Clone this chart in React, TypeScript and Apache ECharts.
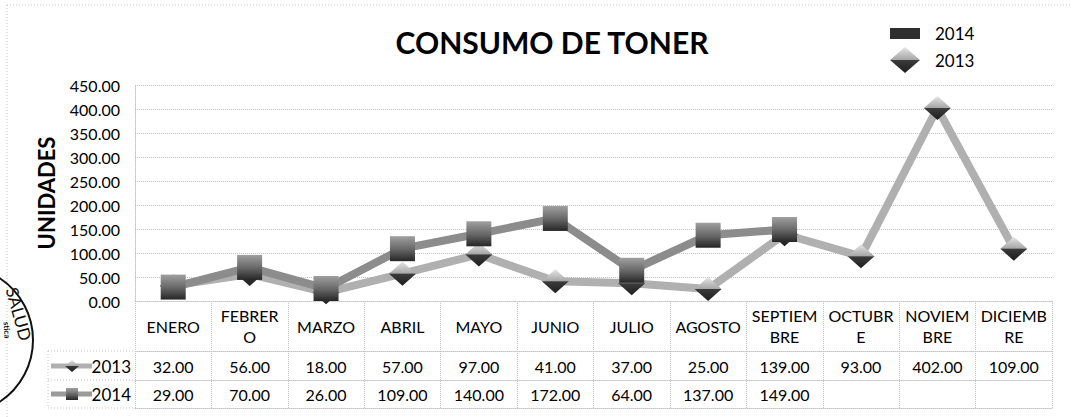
import React, { useEffect, useRef } from "react";
import * as echarts from "echarts";

const categories = ["ENERO", "FEBRERO", "MARZO", "ABRIL", "MAYO", "JUNIO", "JULIO", "AGOSTO", "SEPTIEMBRE", "OCTUBRE", "NOVIEMBRE", "DICIEMBRE"];
const categoryLabels = ["ENERO", "FEBRER\nO", "MARZO", "ABRIL", "MAYO", "JUNIO", "JULIO", "AGOSTO", "SEPTIEM\nBRE", "OCTUBR\nE", "NOVIEM\nBRE", "DICIEMB\nRE"];
const values2013 = [32, 56, 18, 57, 97, 41, 37, 25, 139, 93, 402, 109];
const values2014: (number | null)[] = [29, 70, 26, 109, 140, 172, 64, 137, 149, null, null, null];
const yMin = 0;
const yMax = 450;
const yStep = 50;
const titleText = "CONSUMO DE TONER";
const yName = "UNIDADES";

const FONT = 'Lato, "Open Sans", "Noto Sans", sans-serif';
const GRID = "#c4c4c4";

const fmt = (v: number | null | undefined) => (v == null ? "" : Number(v).toFixed(2));

export default function App() {
  const ref = useRef<HTMLDivElement>(null);
  useEffect(() => {
    if (!ref.current) return;
    const chart = echarts.init(ref.current, undefined, { renderer: "svg" });
    const dotted = { color: GRID, width: 1, type: "dotted" as const };
    const sq2014 = new echarts.graphic.LinearGradient(0, 0, 0, 1, [
      { offset: 0, color: "#a0a0a0" },
      { offset: 0.5, color: "#6a6a6a" },
      { offset: 1, color: "#262626" },
    ]);
    const dia2013 = new echarts.graphic.LinearGradient(0, 0, 0, 1, [
      { offset: 0, color: "#e6e6e6" },
      { offset: 0.48, color: "#a8a8a8" },
      { offset: 0.52, color: "#3a3a3a" },
      { offset: 1, color: "#1e1e1e" },
    ]);
    const tableAxis = (offset: number, vals: (number | null)[] | null, margin: number) => ({
      type: "category",
      data: categories,
      position: "bottom",
      offset,
      boundaryGap: true,
      axisLine: { show: true, lineStyle: dotted },
      axisTick: { show: false },
      axisLabel: vals
        ? {
            show: true,
            interval: 0,
            margin,
            verticalAlign: "middle",
            color: "#000",
            fontSize: 16,
            fontFamily: FONT,
            formatter: (_v: string, i: number) => fmt(vals[i]),
          }
        : { show: false },
    });
    chart.setOption({
      animation: false,
      backgroundColor: "#fff",
      title: {
        text: titleText,
        left: 552,
        top: 27,
        textAlign: "center",
        padding: 0,
        textStyle: { fontFamily: FONT, fontWeight: "bold", fontSize: 30, color: "#000" },
      },
      legend: {
        orient: "vertical",
        left: 890,
        top: 20,
        itemWidth: 30,
        itemHeight: 26,
        itemGap: 1,
        padding: 0,
        textStyle: { fontFamily: FONT, fontSize: 17, color: "#000", padding: [0, 0, 0, 10] },
        data: [
          { name: "2014", icon: "path://M0 0M0 8L30 8L30 19L0 19ZM30 26", itemStyle: { color: "#2e2e2e" } },
          { name: "2013", icon: "diamond", itemStyle: { color: dia2013 } },
        ],
      },
      grid: { left: 135, right: 20, top: 85, bottom: 116, containLabel: false },
      xAxis: [
        {
          type: "category",
          data: categories,
          position: "bottom",
          boundaryGap: true,
          axisLine: { show: true, lineStyle: dotted },
          axisTick: { show: true, interval: 0, length: 107, lineStyle: dotted },
          axisLabel: {
            interval: 0,
            margin: 25,
            verticalAlign: "middle",
            lineHeight: 21,
            color: "#000",
            fontSize: 16,
            fontFamily: FONT,
            formatter: (_v: string, i: number) => categoryLabels[i],
          },
        },
        tableAxis(50, values2013, 15),
        tableAxis(79, values2014, 14),
        tableAxis(107, null, 0),
      ],
      yAxis: {
        type: "value",
        min: yMin,
        max: yMax,
        interval: yStep,
        axisLine: { show: true, lineStyle: dotted },
        axisTick: { show: false },
        splitLine: { show: true, lineStyle: dotted },
        axisLabel: { margin: 15, color: "#000", fontSize: 16, fontFamily: FONT, formatter: (v: number) => v.toFixed(2) },
      },
      series: [
        {
          name: "2013",
          type: "line",
          xAxisIndex: 0,
          data: values2013,
          symbol: "diamond",
          symbolSize: [27, 24],
          lineStyle: { color: "#b0b0b0", width: 8 },
          itemStyle: { color: dia2013, borderWidth: 0 },
          z: 2,
        },
        {
          name: "2014",
          type: "line",
          xAxisIndex: 0,
          data: values2014,
          symbol: "rect",
          symbolSize: [25, 25],
          lineStyle: { color: "#8c8c8c", width: 8 },
          itemStyle: { color: sq2014, borderWidth: 0 },
          z: 3,
        },
      ],
      graphic: [
        {
          type: "rect",
          silent: true,
          shape: { x: 7, y: 5, width: 1090, height: 430 },
          style: { fill: "none", stroke: "#c8c8c8", lineWidth: 1, lineDash: [1, 2] },
        },
        {
          type: "text",
          x: 46,
          y: 193,
          rotation: Math.PI / 2,
          style: { text: yName, fontFamily: FONT, fontWeight: "bold", fontSize: 22, fill: "#000", textAlign: "center", textVerticalAlign: "middle" },
        },
        // table left column borders
        { type: "line", shape: { x1: 48, y1: 351, x2: 135, y2: 351 }, style: { stroke: GRID, lineDash: [1, 2] } },
        { type: "line", shape: { x1: 48, y1: 380, x2: 135, y2: 380 }, style: { stroke: GRID, lineDash: [1, 2] } },
        { type: "line", shape: { x1: 48, y1: 408, x2: 135, y2: 408 }, style: { stroke: GRID, lineDash: [1, 2] } },
        { type: "line", shape: { x1: 48, y1: 351, x2: 48, y2: 408 }, style: { stroke: GRID, lineDash: [1, 2] } },
        // row keys
        { type: "line", shape: { x1: 51, y1: 366, x2: 92, y2: 366 }, style: { stroke: "#b0b0b0", lineWidth: 5 } },
        { type: "polygon", shape: { points: [[72, 360], [79, 366], [72, 372], [65, 366]] }, style: { fill: dia2013 } },
        { type: "text", x: 131, y: 366, style: { text: "2013", fontFamily: FONT, fontSize: 17, fill: "#000", textAlign: "right", textVerticalAlign: "middle" } },
        { type: "line", shape: { x1: 51, y1: 394, x2: 92, y2: 394 }, style: { stroke: "#9a9a9a", lineWidth: 5 } },
        { type: "rect", shape: { x: 66, y: 388, width: 12, height: 12 }, style: { fill: sq2014 } },
        { type: "text", x: 131, y: 394, style: { text: "2014", fontFamily: FONT, fontSize: 17, fill: "#000", textAlign: "right", textVerticalAlign: "middle" } },
        // stamp
        { type: "circle", shape: { cx: -41, cy: 340, r: 74 }, style: { fill: "none", stroke: "#111", lineWidth: 2 } },
        { type: "text", x: 19, y: 314, rotation: -1.3, style: { text: "SALUD", fontFamily: FONT, fontSize: 17, fill: "#111", textAlign: "center", textVerticalAlign: "middle" } },
        { type: "text", x: 7, y: 330, rotation: -1.5, style: { text: "stica", fontFamily: FONT, fontWeight: "bold", fontSize: 8, fill: "#111", textAlign: "center", textVerticalAlign: "middle" } },
      ],
    });
    return () => chart.dispose();
  }, []);
  return <div ref={ref} style={{ position: "absolute", left: 0, top: 0, width: 1072, height: 417 }} />;
}
